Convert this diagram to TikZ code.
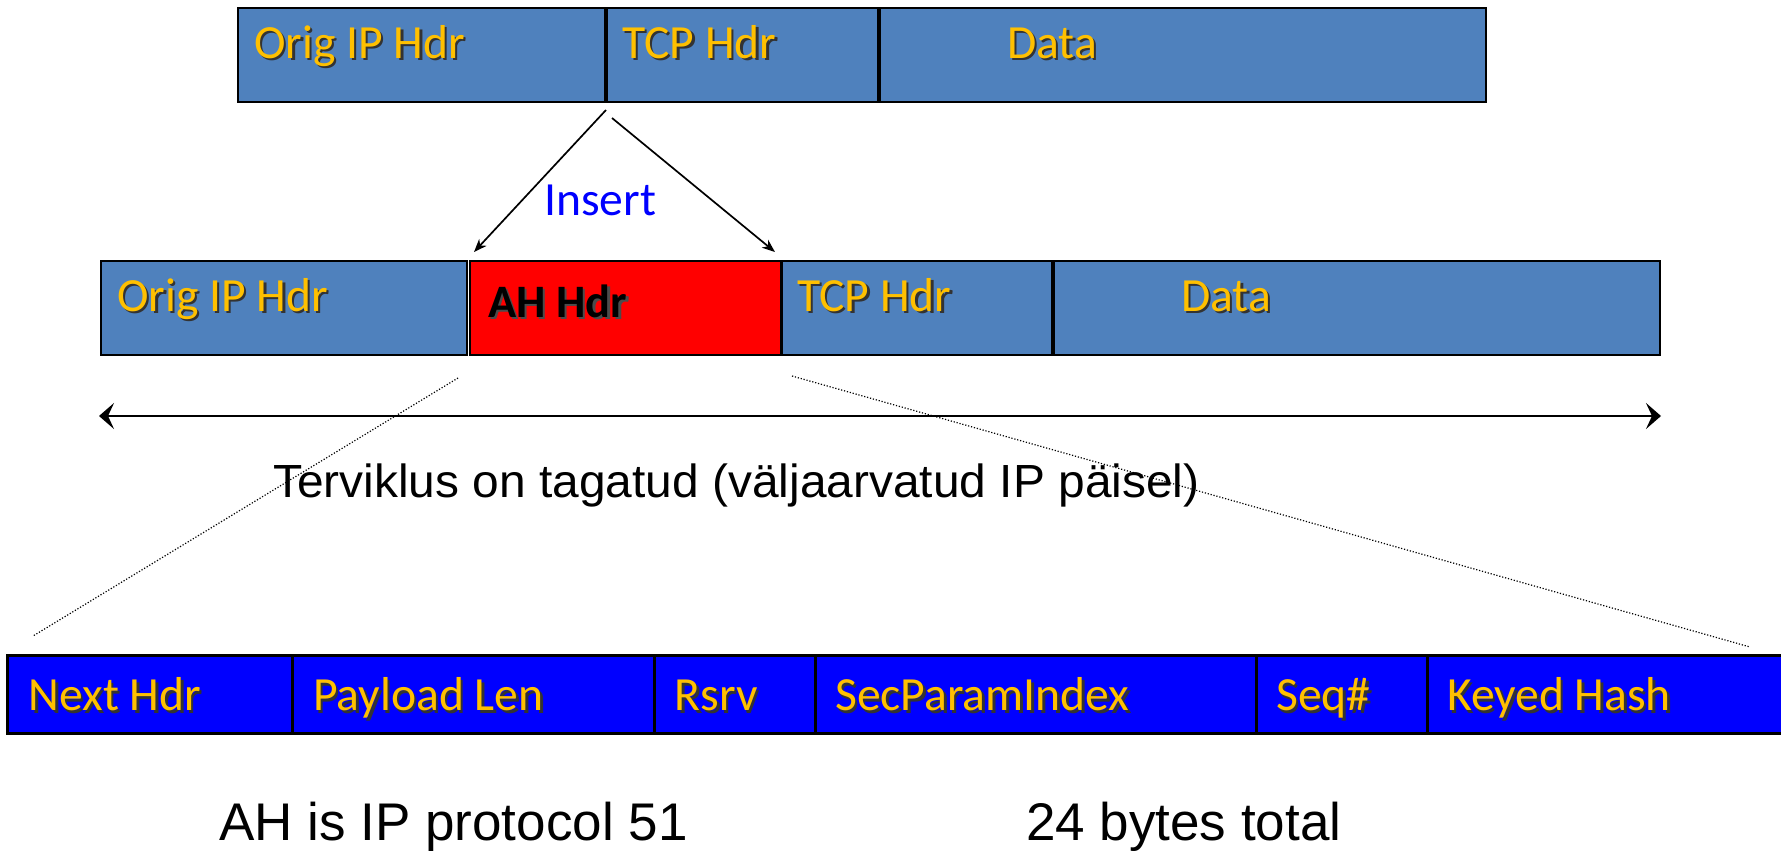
\documentclass[tikz,border=0pt]{standalone}
\usepackage{fontspec}
\setmainfont{Carlito}
\newfontfamily\arialfont{Liberation Sans}
\usetikzlibrary{arrows.meta}
\definecolor{hdrblue}{HTML}{4F81BD}
\definecolor{ahred}{HTML}{FF0000}
\definecolor{fieldblue}{HTML}{0000FF}
\definecolor{lblyellow}{HTML}{FFC000}
\definecolor{insertblue}{HTML}{0000FF}
% text with a soft dark drop shadow below and to the right
\newcommand\shadowed[2][black!80]{\leavevmode\rlap{\hspace{2.5pt}\raisebox{-2.5pt}{\color{#1}#2}}#2}

\begin{document}
\begin{tikzpicture}[x=1pt,y=-1pt,
  cell/.style={draw=black, line width=2.3pt, inner sep=0pt, outer sep=0pt, anchor=north west},
  field/.style={cell, fill=fieldblue, line width=3pt, minimum height=78pt},
  hdr/.style={cell, fill=hdrblue, minimum height=94pt},
  sz/.style={minimum width=#1pt},
  lbl/.style={anchor=base west, inner sep=0pt, text=lblyellow, font=\fontsize{47.6}{57}\selectfont},
  ahlbl/.style={anchor=base west, inner sep=0pt, text=black, font=\bfseries\fontsize{46.5}{56}\selectfont},
  note/.style={anchor=base west, inner sep=0pt, text=black, font=\arialfont\fontsize{46.5}{56}\selectfont},
  big/.style={anchor=base west, inner sep=0pt, text=black, font=\arialfont\fontsize{53}{64}\selectfont},
  insarrow/.style={line width=1.7pt, -{Stealth[length=13pt,width=10pt,inset=4pt]}},
  spanarrow/.style={line width=2.5pt, {Stealth[length=15pt,width=26pt,inset=6pt]}-{Stealth[length=15pt,width=26pt,inset=6pt]}},
  zoomline/.style={line width=1.2pt, dash pattern=on 1.2pt off 1.8pt}]
\useasboundingbox (0,0) rectangle (1781,854);

% original packet
\node[hdr, sz=367] (o1) at (238,8) {};
\node[hdr, sz=271] (t1) at (607,8) {};
\node[hdr, sz=606] (d1) at (880,8) {};
\node[lbl] (o1l) at ([xshift=16pt,yshift=-50pt]o1.north west) {\shadowed{Orig IP Hdr}};
\node[lbl] (t1l) at ([xshift=15pt,yshift=-50pt]t1.north west) {\shadowed{TCP Hdr}};
\node[lbl] (d1l) at ([xshift=127pt,yshift=-50pt]d1.north west) {\shadowed{Data}};

% packet with the AH header inserted
\node[hdr, sz=366] (o2) at (101,261) {};
\node[cell, fill=ahred, minimum height=94pt, sz=311] (ah) at (470,261) {};
\node[hdr, sz=270] (t2) at (782,261) {};
\node[hdr, sz=606] (d2) at (1054,261) {};
\node[lbl] (o2l) at ([xshift=16pt,yshift=-50pt]o2.north west) {\shadowed{Orig IP Hdr}};
\node[ahlbl] (ahl) at ([xshift=18pt,yshift=-56pt]ah.north west) {\shadowed[black!70]{AH Hdr}};
\node[lbl] (t2l) at ([xshift=15pt,yshift=-50pt]t2.north west) {\shadowed{TCP Hdr}};
\node[lbl] (d2l) at ([xshift=127pt,yshift=-50pt]d2.north west) {\shadowed{Data}};

% insertion arrows
\coordinate (splitA) at ([xshift=1pt,yshift=-8pt]o1.south east);
\coordinate (splitB) at ([xshift=7pt,yshift=-16pt]o1.south east);
\coordinate (ahA) at ([xshift=4pt,yshift=9pt]ah.north west);
\coordinate (ahB) at ([xshift=-6pt,yshift=9pt]ah.north east);
\draw[insarrow] (splitA) -- (ahA);
\draw[insarrow] (splitB) -- (ahB);
\node[anchor=base west, inner sep=0pt, text=insertblue, font=\fontsize{47.6}{57}\selectfont] (ins) at (544,215) {Insert};

% integrity span
\coordinate (spanL) at (99,416);
\coordinate (spanR) at (1661,416);
\draw[spanarrow] (spanL) -- (spanR);
\node[note] (span) at (273,497) {\scalebox{1.03}[1]{Terviklus on tagatud (väljaarvatud IP päisel)}};

% AH header layout
\node[field, sz=284.5] (f1) at (7.5,655) {};
\node[field, sz=362.5] (f2) at (292,655) {};
\node[field, sz=160.5] (f3) at (654.5,655) {};
\node[field, sz=441] (f4) at (815,655) {};
\node[field, sz=171] (f5) at (1256,655) {};
\node[field, sz=373] (f6) at (1427,655) {};
\node[lbl] (f1l) at ([xshift=21pt,yshift=-55.7pt]f1.north west) {\shadowed{Next Hdr}};
\node[lbl] (f2l) at ([xshift=21pt,yshift=-55.7pt]f2.north west) {\shadowed{Payload Len}};
\node[lbl] (f3l) at ([xshift=20pt,yshift=-55.7pt]f3.north west) {\shadowed{Rsrv}};
\node[lbl] (f4l) at ([xshift=20pt,yshift=-55.7pt]f4.north west) {\shadowed{SecParamIndex}};
\node[lbl] (f5l) at ([xshift=20pt,yshift=-55.7pt]f5.north west) {\shadowed{Seq\#}};
\node[lbl] (f6l) at ([xshift=20pt,yshift=-55.7pt]f6.north west) {\shadowed{Keyed Hash}};

% zoom lines from the AH header down to its layout
\coordinate (zl1) at (458,378);
\coordinate (zl2) at (33,636);
\coordinate (zr1) at (792,376);
\coordinate (zr2) at (1750,647);
\draw[zoomline] (zl1) -- (zl2);
\draw[zoomline] (zr1) -- (zr2);

% notes
\node[big] (proto) at (219,840) {AH is IP protocol 51};
\node[big] (total) at (1026,840) {24 bytes total};
\end{tikzpicture}
\end{document}
